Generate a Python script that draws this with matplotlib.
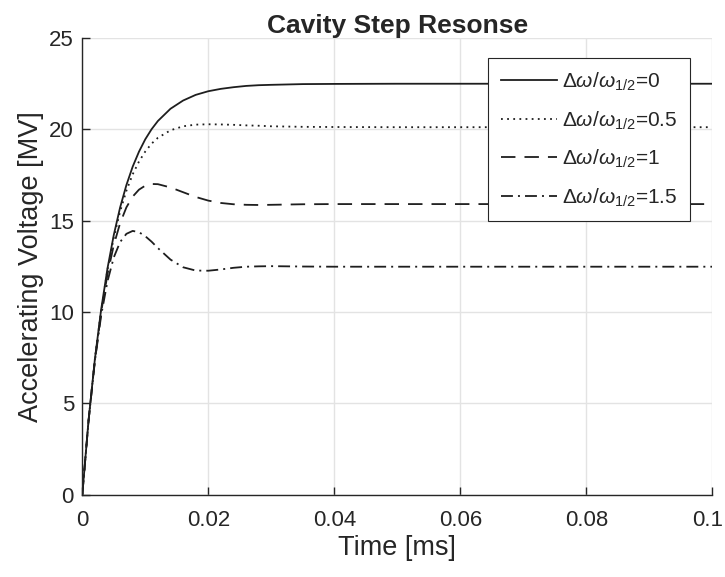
import matplotlib
matplotlib.use("Agg")
import matplotlib.pyplot as plt
import matplotlib.transforms as mtransforms

plt.rcParams['font.family'] = ['Liberation Sans', 'DejaVu Sans']
plt.rcParams['mathtext.fontset'] = 'custom'
plt.rcParams['mathtext.rm'] = 'Liberation Sans'
plt.rcParams['mathtext.it'] = 'Liberation Sans:italic'
plt.rcParams['mathtext.bf'] = 'Liberation Sans:bold'

# time axis [ms]
time_ms = [0, 0.001, 0.002, 0.003, 0.004, 0.005, 0.006, 0.007, 0.008, 0.009,
           0.010, 0.011, 0.012, 0.014, 0.016, 0.018, 0.020, 0.022, 0.024,
           0.026, 0.028, 0.030, 0.035, 0.040, 0.050, 0.060, 0.070, 0.080,
           0.090, 0.100]

v_d0 = [0, 4.08, 7.42, 10.15, 12.39, 14.22, 15.72, 16.95, 17.96, 18.78,
        19.46, 20.01, 20.46, 21.13, 21.58, 21.89, 22.09, 22.22, 22.31,
        22.38, 22.42, 22.44, 22.48, 22.49, 22.50, 22.50, 22.50, 22.50,
        22.50, 22.50]

v_d05 = [0, 4.08, 7.41, 10.12, 12.31, 14.08, 15.50, 16.64, 17.54, 18.24,
         18.79, 19.22, 19.54, 19.95, 20.17, 20.26, 20.28, 20.27, 20.25,
         20.22, 20.20, 20.17, 20.14, 20.13, 20.12, 20.12, 20.12, 20.12,
         20.12, 20.12]

v_d1 = [0, 4.07, 7.37, 10.00, 12.07, 13.67, 14.86, 15.73, 16.32, 16.70,
        16.92, 17.01, 17.00, 16.82, 16.56, 16.30, 16.10, 15.97, 15.90,
        15.87, 15.86, 15.87, 15.90, 15.91, 15.91, 15.91, 15.91, 15.91,
        15.91, 15.91]

v_d15 = [0, 4.07, 7.31, 9.82, 11.68, 12.99, 13.83, 14.28, 14.44, 14.37,
         14.15, 13.85, 13.50, 12.87, 12.45, 12.27, 12.26, 12.33, 12.42,
         12.48, 12.50, 12.51, 12.49, 12.48, 12.48, 12.48, 12.48, 12.48,
         12.48, 12.48]

labels = [r'$\Delta\omega/\omega_{\mathrm{1/2}}$=0',
          r'$\Delta\omega/\omega_{\mathrm{1/2}}$=0.5',
          r'$\Delta\omega/\omega_{\mathrm{1/2}}$=1',
          r'$\Delta\omega/\omega_{\mathrm{1/2}}$=1.5']

xticks = [0, 0.02, 0.04, 0.06, 0.08, 0.1]
xticklabels = ['0', '0.02', '0.04', '0.06', '0.08', '0.1']
yticks = [0, 5, 10, 15, 20, 25]

fig = plt.figure(figsize=(7.25, 5.77), dpi=100)
ax = fig.add_axes([0.1135, 0.1428, 0.869, 0.7912])

lc = '#1e1e1e'
lw = 1.3
ax.plot(time_ms, v_d0, color=lc, lw=lw, linestyle='-', label=labels[0])
ax.plot(time_ms, v_d05, color=lc, lw=lw, linestyle=(0, (1.0, 2.4)), label=labels[1])
ax.plot(time_ms, v_d1, color=lc, lw=lw, linestyle=(0, (8.0, 5.0)), label=labels[2])
ax.plot(time_ms, v_d15, color=lc, lw=lw, linestyle=(0, (6.6, 2.8, 1.1, 2.8)), label=labels[3])

ax.set_xlim(0, 0.1)
ax.set_ylim(0, 25)
ax.set_xticks(xticks)
ax.set_xticklabels(xticklabels)
ax.set_yticks(yticks)

ax.grid(True, color='#e3e3e3', lw=1.0)
ax.set_axisbelow(True)
for s in ['top', 'right']:
    ax.spines[s].set_visible(False)
for s in ['left', 'bottom']:
    ax.spines[s].set_color('#262626')
    ax.spines[s].set_linewidth(1.0)
ax.tick_params(direction='in', length=5.5, width=1.0, colors='#262626',
               labelsize=16, pad=6)
ax.tick_params(axis='x', pad=11)

# keep the last x tick label inside the figure
last = ax.get_xticklabels()[-1]
last.set_transform(last.get_transform() +
                   mtransforms.ScaledTranslation(-5 / 100, 0, fig.dpi_scale_trans))

ax.set_xlabel('Time [ms]', fontsize=19.5, color='#262626', labelpad=3)
ax.set_ylabel('Accelerating Voltage [MV]', fontsize=19.5, color='#262626', labelpad=4)
ax.set_title('Cavity Step Resonse', fontsize=19, fontweight='bold', color='#262626', pad=3)

leg = ax.legend(loc='upper right', bbox_to_anchor=(0.9646, 0.956), borderaxespad=0,
                fontsize=15, handlelength=2.7, handletextpad=0.25,
                labelspacing=0.78, frameon=True, fancybox=False,
                borderpad=0.6)
leg.get_frame().set_edgecolor('#262626')
leg.get_frame().set_linewidth(0.8)
leg.get_frame().set_alpha(1.0)
for t in leg.get_texts():
    t.set_color('#262626')

fig.savefig('out.png', dpi=100)
